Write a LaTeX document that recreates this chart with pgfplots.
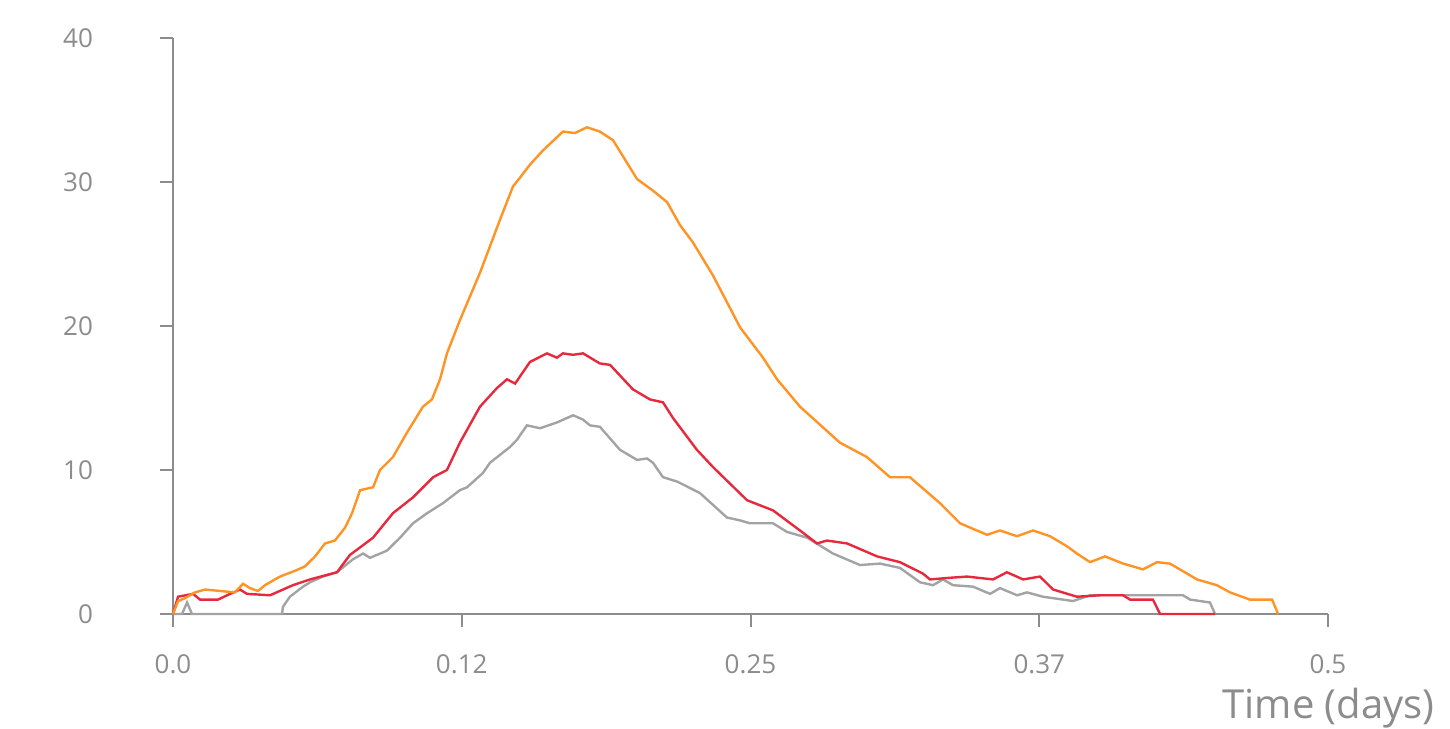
\documentclass[border=0pt]{standalone}
\usepackage{fontspec}
\setmainfont{Open Sans}
\usepackage{pgfplots}
\pgfplotsset{compat=1.18}
\usepackage{pgfplotstable}

\definecolor{axgray}{HTML}{8C8C8C}
\definecolor{lineorange}{HTML}{FF9424}
\definecolor{linered}{HTML}{E8283C}
\definecolor{linegray}{HTML}{A3A3A3}

% series: time (days), value
\pgfplotstableread{
t v
0 0
0.0022 0.9
0.0052 1.1
0.0095 1.5
0.0139 1.7
0.0203 1.6
0.0268 1.5
0.0303 2.1
0.0333 1.8
0.0368 1.6
0.0398 2.0
0.0463 2.6
0.0528 3.0
0.0571 3.3
0.0615 4.0
0.0658 4.9
0.0701 5.1
0.0745 6.0
0.0775 7.0
0.0810 8.6
0.0866 8.8
0.0896 10.0
0.0952 10.9
0.1013 12.6
0.1082 14.4
0.1121 14.9
0.1156 16.3
0.1186 18.1
0.1242 20.4
0.1329 23.7
0.1416 27.4
0.1472 29.7
0.1502 30.3
0.1545 31.2
0.1602 32.2
0.1688 33.5
0.1740 33.4
0.1792 33.8
0.1848 33.5
0.1905 32.9
0.2009 30.2
0.2078 29.4
0.2139 28.6
0.2195 27.0
0.2251 25.8
0.2338 23.5
0.2455 19.9
0.2554 17.8
0.2615 16.3
0.2714 14.4
0.2887 11.9
0.3004 10.9
0.3104 9.5
0.3190 9.5
0.3320 7.7
0.3407 6.3
0.3524 5.5
0.3580 5.8
0.3654 5.4
0.3723 5.8
0.3797 5.4
0.3870 4.7
0.3913 4.2
0.3970 3.6
0.4035 4.0
0.4113 3.5
0.4199 3.1
0.4260 3.6
0.4316 3.5
0.4433 2.4
0.4519 2.0
0.4576 1.5
0.4662 1.0
0.4758 1.0
0.4784 0
}\orangedata

\pgfplotstableread{
t v
0 0
0.0022 1.2
0.0087 1.4
0.0117 1.0
0.0195 1.0
0.0234 1.3
0.0290 1.7
0.0320 1.4
0.0420 1.3
0.0519 2.0
0.0593 2.4
0.0710 2.9
0.0766 4.1
0.0866 5.3
0.0952 7.0
0.1039 8.1
0.1126 9.5
0.1186 10.0
0.1242 11.9
0.1329 14.4
0.1403 15.7
0.1446 16.3
0.1481 16.0
0.1545 17.5
0.1619 18.1
0.1662 17.8
0.1688 18.1
0.1732 18.0
0.1775 18.1
0.1848 17.4
0.1892 17.3
0.1991 15.6
0.2065 14.9
0.2121 14.7
0.2165 13.6
0.2268 11.4
0.2338 10.2
0.2485 7.9
0.2597 7.2
0.2714 5.8
0.2788 4.9
0.2831 5.1
0.2918 4.9
0.3048 4.0
0.3147 3.6
0.3247 2.8
0.3277 2.4
0.3351 2.5
0.3437 2.6
0.3550 2.4
0.3610 2.9
0.3680 2.4
0.3753 2.6
0.3810 1.7
0.3913 1.2
0.4013 1.3
0.4113 1.3
0.4143 1.0
0.4242 1.0
0.4273 0
0.4511 0
}\reddata

\pgfplotstableread{
t v
0 0
0.0039 0
0.0061 0.8
0.0082 0
0.0472 0
0.0476 0.5
0.0506 1.2
0.0563 1.9
0.0593 2.2
0.0649 2.6
0.0710 2.9
0.0779 3.8
0.0823 4.2
0.0853 3.9
0.0926 4.4
0.0983 5.3
0.1039 6.3
0.1100 7.0
0.1169 7.7
0.1242 8.6
0.1273 8.8
0.1342 9.8
0.1372 10.5
0.1459 11.6
0.1489 12.1
0.1532 13.1
0.1589 12.9
0.1662 13.3
0.1732 13.8
0.1775 13.5
0.1805 13.1
0.1848 13.0
0.1935 11.4
0.2009 10.7
0.2052 10.8
0.2078 10.5
0.2121 9.5
0.2182 9.2
0.2281 8.4
0.2398 6.7
0.2455 6.5
0.2498 6.3
0.2597 6.3
0.2658 5.7
0.2745 5.3
0.2857 4.2
0.2974 3.4
0.3061 3.5
0.3147 3.2
0.3234 2.2
0.3290 2.0
0.3333 2.4
0.3377 2.0
0.3463 1.9
0.3537 1.4
0.3580 1.8
0.3654 1.3
0.3697 1.5
0.3766 1.2
0.3896 0.9
0.3970 1.3
0.4372 1.3
0.4403 1.0
0.4489 0.8
0.4511 0
}\graydata

\begin{document}
\begin{tikzpicture}
\path[use as bounding box] (0,0) rectangle (725pt,364pt);
\begin{axis}[
    at={(86.5pt,57pt)}, anchor=south west,
    width=577.5pt, height=288pt, scale only axis,
    xmin=0, xmax=0.5, ymin=0, ymax=40,
    axis x line*=bottom, axis y line*=left,
    axis line style={axgray, line width=1pt, -},
    tick align=outside, major tick length=6.5pt,
    tick style={axgray, line width=1pt},
    xtick={0,0.125,0.25,0.375,0.5},
    xticklabels={0.0,0.12,0.25,0.37,0.5},
    ytick={0,10,20,30,40},
    ticklabel style={font=\fontsize{13}{15}\selectfont, text=axgray},
    xticklabel style={anchor=north, yshift=-10.5pt},
    yticklabel style={anchor=east, xshift=-30pt},
    /pgf/number format/assume math mode=true,
    clip=false,
]
\addplot[linegray, line width=1.2pt] table[x=t, y=v] {\graydata};
\addplot[linered, line width=1.2pt] table[x=t, y=v] {\reddata};
\addplot[lineorange, line width=1.2pt] table[x=t, y=v] {\orangedata};
\end{axis}
\node[anchor=base east, text=axgray, font=\fontsize{20}{23}\selectfont, inner sep=0pt] at (717.5pt,5pt) {Time (days)};
\end{tikzpicture}
\end{document}
